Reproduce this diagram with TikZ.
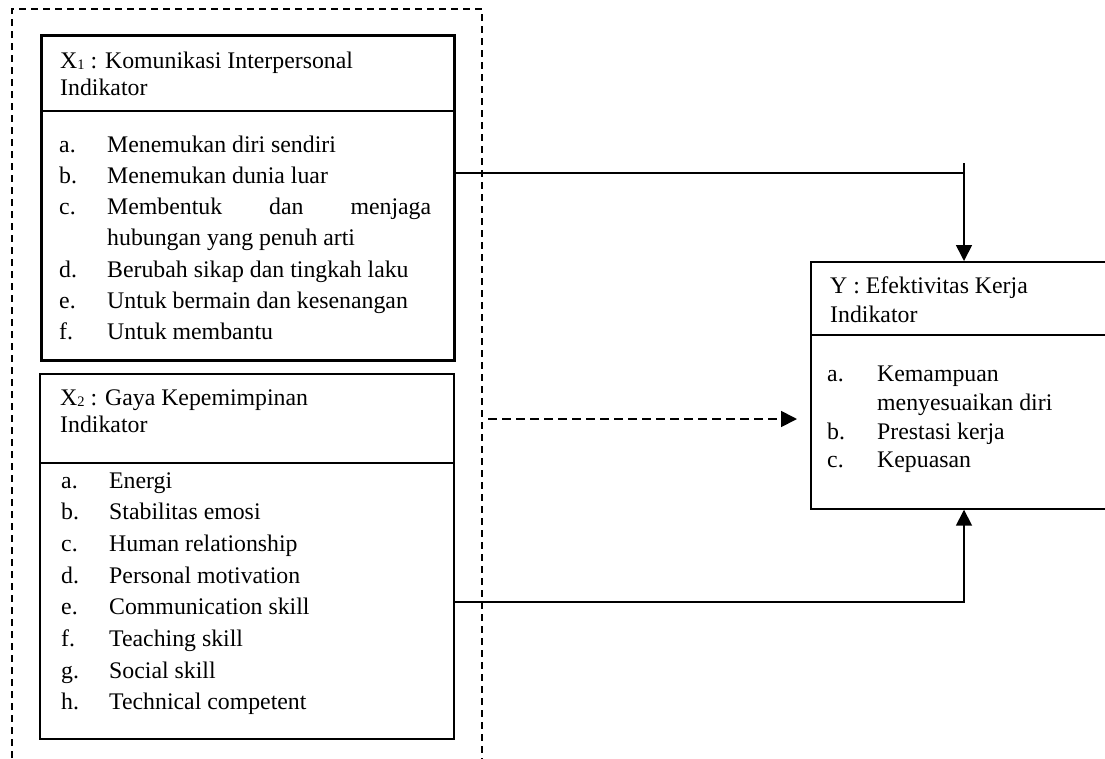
\documentclass[tikz,border=0pt]{standalone}
\usepackage{fontspec}
\setmainfont{Liberation Serif}
\usetikzlibrary{arrows.meta}
\newcommand{\subnum}[1]{{\fontsize{14.5}{14.5}\selectfont\raisebox{-1.5pt}{#1}}}
\begin{document}
\begin{tikzpicture}[x=1pt,y=-1pt,
  boxbase/.style={draw=black,rectangle,anchor=north west,inner sep=0pt},
  thickbox/.style={boxbase,line width=2.7pt},
  thinbox/.style={boxbase,line width=1.7pt},
  divider/.style={line width=1.4pt},
  txt/.style={anchor=base west,inner sep=0pt,font=\fontsize{23.8}{28}\selectfont},
  conn/.style={line width=1.7pt},
  tip/.style={-{Triangle[length=16pt,width=16pt]}},
  dashconn/.style={line width=1.7pt,dash pattern=on 9pt off 5pt},
  outer/.style={line width=1.4pt,dash pattern=on 7pt off 5pt}]
\useasboundingbox (0,0) rectangle (1105,758);
\clip (0,0) rectangle (1105,758);

% outer dashed frame (open at bottom)
\draw[outer] (12,770) -- (12,9) -- (482,9) -- (482,770);

% boxes
\node[thickbox,minimum width=413pt,minimum height=325pt] (x1) at (40,34) {};
\node[thinbox,minimum width=414pt,minimum height=365pt] (x2) at (39,373) {};
\node[thinbox,minimum width=330pt,minimum height=247pt] (y) at (810,261) {};

% dividers
\coordinate (dv1) at (0,111);
\coordinate (dv2) at (0,463);
\coordinate (dv3) at (0,335);
\draw[divider] (x1.west |- dv1) -- (x1.east |- dv1);
\draw[divider] (x2.west |- dv2) -- (x2.east |- dv2);
\draw[divider] (y.west |- dv3) -- (y.east |- dv3);

% X1 text
\node[txt] (x1t1) at (60,68) {X\subnum{1} : Komunikasi Interpersonal};
\node[txt] (x1t2) at (60,95) {Indikator};
\node[txt] (x1la) at (59,152) {a.};   \node[txt] (x1a) at (107,152) {Menemukan diri sendiri};
\node[txt] (x1lb) at (59,183.3) {b.}; \node[txt] (x1b) at (107,183.3) {Menemukan dunia luar};
\node[txt] (x1lc) at (59,214.6) {c.}; \node[txt] (x1c) at (107,214.6) {\makebox[324pt][s]{Membentuk dan menjaga}};
\node[txt] (x1c2) at (107,245.9) {hubungan yang penuh arti};
\node[txt] (x1ld) at (59,277.2) {d.}; \node[txt] (x1d) at (107,277.2) {Berubah sikap dan tingkah laku};
\node[txt] (x1le) at (59,308.5) {e.}; \node[txt] (x1e) at (107,308.5) {Untuk bermain dan kesenangan};
\node[txt] (x1lf) at (59,339.8) {f.}; \node[txt] (x1f) at (107,339.8) {Untuk membantu};

% X2 text
\node[txt] (x2t1) at (60,405) {X\subnum{2} : Gaya Kepemimpinan};
\node[txt] (x2t2) at (60,432) {Indikator};
\node[txt] (x2la) at (61,488) {a.};   \node[txt] (x2a) at (109,488) {Energi};
\node[txt] (x2lb) at (61,519.7) {b.}; \node[txt] (x2b) at (109,519.7) {Stabilitas emosi};
\node[txt] (x2lc) at (61,551.4) {c.}; \node[txt] (x2c) at (109,551.4) {Human relationship};
\node[txt] (x2ld) at (61,583.1) {d.}; \node[txt] (x2d) at (109,583.1) {Personal motivation};
\node[txt] (x2le) at (61,614.8) {e.}; \node[txt] (x2e) at (109,614.8) {Communication skill};
\node[txt] (x2lf) at (61,646.5) {f.}; \node[txt] (x2f) at (109,646.5) {Teaching skill};
\node[txt] (x2lg) at (61,678.2) {g.}; \node[txt] (x2g) at (109,678.2) {Social skill};
\node[txt] (x2lh) at (61,709.9) {h.}; \node[txt] (x2h) at (109,709.9) {Technical competent};

% Y text
\node[txt] (yt1) at (830,293) {Y : Efektivitas Kerja};
\node[txt] (yt2) at (830,322) {Indikator};
\node[txt] (yla) at (827,381) {a.}; \node[txt] (ya) at (877,381) {Kemampuan};
\node[txt] (ya2) at (877,410) {menyesuaikan diri};
\node[txt] (ylb) at (827,439.5) {b.}; \node[txt] (yb) at (877,439.5) {Prestasi kerja};
\node[txt] (ylc) at (827,467) {c.}; \node[txt] (yc) at (877,467) {Kepuasan};

% connectors
\coordinate (t1) at (964,163);
\coordinate (j1) at (964,173);
\coordinate (j2) at (964,602);
\coordinate (d0) at (488,419);
\draw[conn] (x1.east |- j1) -- (j1);
\draw[conn,tip] (t1) -- (y.north -| t1);
\draw[conn,tip] (x2.east |- j2) -- (j2) -- (y.south -| j2);
\draw[dashconn,tip,shorten >=13pt] (d0) -- (y.west |- d0);
\end{tikzpicture}
\end{document}
